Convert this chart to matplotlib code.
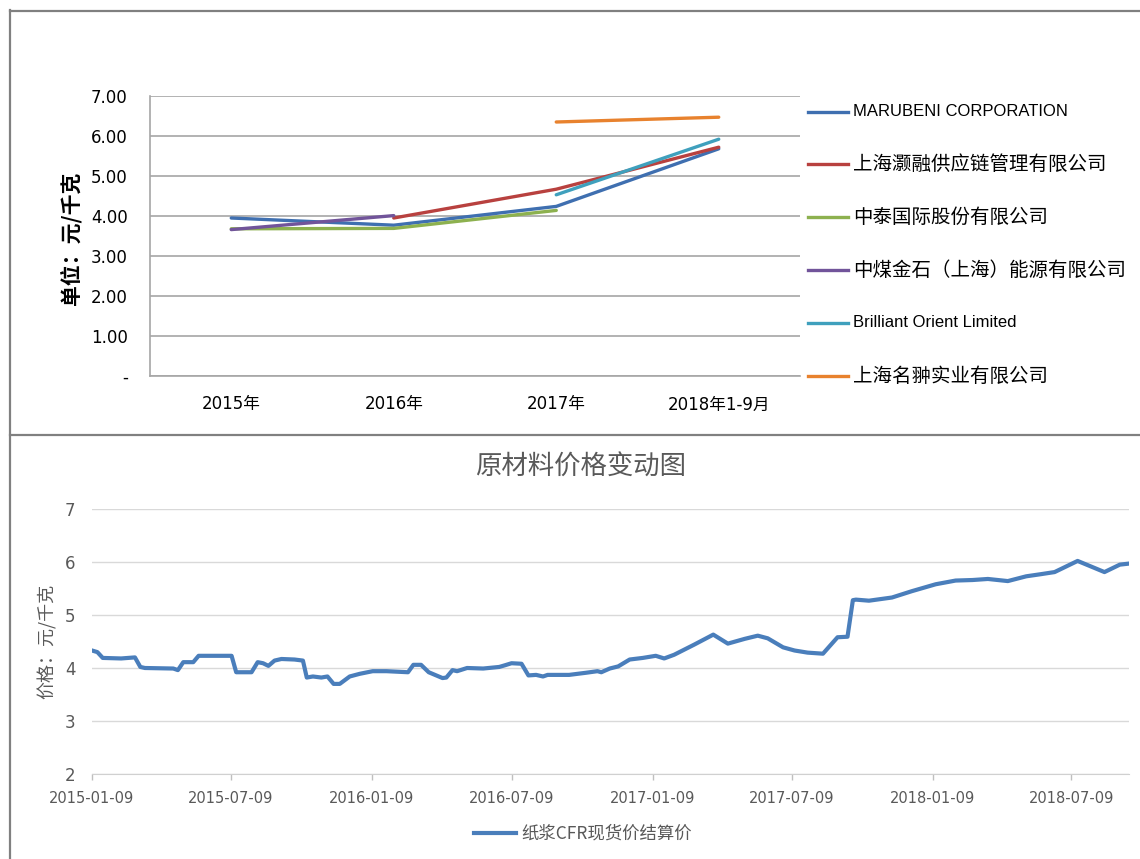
import matplotlib
matplotlib.use("Agg")
import matplotlib.pyplot as plt
import matplotlib.dates as mdates
from matplotlib.lines import Line2D
import numpy as np
import pandas as pd

plt.rcParams['font.family'] = ['DejaVu Sans', 'Noto Sans CJK SC']

W, H = 1140, 859

# ---- top chart: yearly price by supplier ----
categories = ['2015年', '2016年', '2017年', '2018年1-9月']
nan = np.nan
marubeni = [3.95, 3.77, 4.24, 5.68]
haorong = [nan, 3.95, 4.67, 5.72]
zhongtai = [3.68, 3.69, 4.14, nan]
zhongmei = [3.66, 4.01, nan, nan]
brilliant = [nan, nan, 4.53, 5.92]
mingchong = [nan, nan, 6.35, 6.47]
series_names = ['MARUBENI CORPORATION', '上海灏融供应链管理有限公司', '中泰国际股份有限公司',
                '中煤金石（上海）能源有限公司', 'Brilliant Orient Limited', '上海名翀实业有限公司']
series_colors = ['#3f6fb0', '#b8413f', '#8db14f', '#71549a', '#3fa0bd', '#e8822e']

# ---- bottom chart: pulp CFR spot settlement price ----
pulp_dates = ['2015-01-09', '2015-01-16', '2015-01-23', '2015-02-16', '2015-03-06', '2015-03-13',
              '2015-03-19', '2015-04-25', '2015-05-01', '2015-05-08', '2015-05-21', '2015-05-28',
              '2015-07-10', '2015-07-16', '2015-08-05', '2015-08-13', '2015-08-20', '2015-08-27',
              '2015-09-04', '2015-09-13', '2015-09-30', '2015-10-11', '2015-10-16', '2015-10-24',
              '2015-11-04', '2015-11-12', '2015-11-20', '2015-11-28', '2015-12-11', '2015-12-24',
              '2016-01-10', '2016-01-28', '2016-02-25', '2016-03-03', '2016-03-13', '2016-03-23',
              '2016-04-10', '2016-04-15', '2016-04-23', '2016-04-29', '2016-05-12', '2016-06-02',
              '2016-06-23', '2016-06-30', '2016-07-09', '2016-07-22', '2016-07-31', '2016-08-10',
              '2016-08-19', '2016-08-25', '2016-09-22', '2016-10-14', '2016-10-29', '2016-11-03',
              '2016-11-14', '2016-11-25', '2016-12-10', '2016-12-27', '2017-01-13', '2017-01-24',
              '2017-02-06', '2017-03-04', '2017-03-29', '2017-04-17', '2017-05-09', '2017-05-26',
              '2017-06-08', '2017-06-28', '2017-07-13', '2017-07-30', '2017-08-19', '2017-09-07',
              '2017-09-20', '2017-09-27', '2017-10-01', '2017-10-18', '2017-11-17', '2017-12-13',
              '2018-01-13', '2018-02-08', '2018-03-02', '2018-03-22', '2018-04-17', '2018-05-11',
              '2018-05-30', '2018-06-17', '2018-07-17', '2018-08-21', '2018-09-10', '2018-09-22']
pulp_price = [4.33, 4.30, 4.19, 4.18, 4.20, 4.02,
              4.00, 3.99, 3.96, 4.11, 4.11, 4.23,
              4.23, 3.92, 3.92, 4.11, 4.09, 4.04,
              4.14, 4.17, 4.16, 4.14, 3.82, 3.84,
              3.82, 3.84, 3.70, 3.70, 3.84, 3.89,
              3.94, 3.94, 3.92, 4.06, 4.06, 3.92,
              3.81, 3.82, 3.96, 3.94, 4.00, 3.99,
              4.02, 4.05, 4.09, 4.08, 3.86, 3.87,
              3.84, 3.87, 3.87, 3.91, 3.94, 3.92,
              3.99, 4.03, 4.16, 4.19, 4.23, 4.18,
              4.25, 4.44, 4.63, 4.46, 4.55, 4.61,
              4.56, 4.39, 4.33, 4.29, 4.27, 4.58,
              4.59, 5.28, 5.29, 5.27, 5.33, 5.45,
              5.58, 5.65, 5.66, 5.68, 5.64, 5.73,
              5.77, 5.81, 6.02, 5.81, 5.95, 5.97]
tick_dates = ['2015-01-09', '2015-07-09', '2016-01-09', '2016-07-09',
              '2017-01-09', '2017-07-09', '2018-01-09', '2018-07-09']

fig = plt.figure(figsize=(W / 100, H / 100), dpi=100)


def fx(px):
    return px / W


def fy(py):
    return 1 - py / H


# frame lines around the two panels
for xs, ys in [((10, W), (10.5, 10.5)), ((9.5, 9.5), (10, H)), ((10, W), (434.5, 434.5))]:
    fig.add_artist(Line2D([fx(x) for x in xs], [fy(y) for y in ys], color='#808080', lw=1.6))

# ---------------- top chart ----------------
ax1 = fig.add_axes([fx(150), fy(376), fx(800) - fx(150), fy(96) - fy(376)])
xpos = np.arange(len(categories))
all_series = [marubeni, haorong, zhongtai, zhongmei, brilliant, mingchong]
for vals, col in zip(all_series, series_colors):
    ax1.plot(xpos, vals, color=col, lw=2.4, solid_capstyle='round')

ax1.set_xlim(-0.5, 3.5)
ax1.set_ylim(0, 7)
ax1.set_yticks(range(8))
ax1.set_yticklabels(['-'] + ['%.2f' % v for v in range(1, 8)], fontsize=12)
ax1.set_xticks(xpos)
ax1.set_xticklabels(categories, fontsize=12)
ax1.tick_params(axis='y', length=0, pad=16)
ax1.tick_params(axis='x', length=0, pad=14)
ax1.grid(axis='y', color='#a6a6a6', lw=1.2)
ax1.set_axisbelow(True)
for s in ['top', 'right']:
    ax1.spines[s].set_visible(False)
ax1.spines['left'].set_color('#a6a6a6')
ax1.spines['bottom'].set_color('#a6a6a6')
ax1.spines['left'].set_linewidth(1.2)
ax1.spines['bottom'].set_linewidth(1.2)
fig.text(fx(71), fy(238), '单位：元/千克', rotation=90, ha='center', va='center',
         fontsize=15, fontweight='bold', family=['Noto Sans CJK SC'])

# legend on the right
leg_y = [112, 164, 217, 270, 323, 376]
for name, col, y in zip(series_names, series_colors, leg_y):
    fig.add_artist(Line2D([fx(808), fx(848)], [fy(y), fy(y)], color=col, lw=2.4))
    if name.isascii():
        fig.text(fx(853), fy(y), name, va='center', fontsize=12, family=['Liberation Sans'])
    else:
        fig.text(fx(853), fy(y), name, va='center', fontsize=14, family=['Noto Sans CJK SC'])

# ---------------- bottom chart ----------------
ax2 = fig.add_axes([fx(92), fy(774), fx(1129) - fx(92), fy(509) - fy(774)])
dts = pd.to_datetime(pulp_dates)
ax2.plot(dts, pulp_price, color='#4a7ebb', lw=3, solid_joinstyle='round', label='纸浆CFR现货价结算价')
ax2.set_ylim(2, 7)
ax2.set_xlim(pd.Timestamp('2015-01-09'), dts[-1])
ticks = pd.to_datetime(tick_dates)
ax2.set_xticks(ticks)
ax2.xaxis.set_major_formatter(mdates.DateFormatter('%Y-%m-%d'))
ax2.tick_params(axis='x', colors='#bfbfbf', labelcolor='#595959', labelsize=10.5,
                length=4, width=1, pad=8)
ax2.tick_params(axis='y', length=0, labelcolor='#595959', labelsize=12, pad=12)
ax2.grid(axis='y', color='#d9d9d9', lw=1)
ax2.set_axisbelow(True)
for s in ['top', 'right', 'left']:
    ax2.spines[s].set_visible(False)
ax2.spines['bottom'].set_color('#d0d0d0')
fig.text(fx(581), fy(467), '原材料价格变动图', ha='center', va='center', fontsize=19,
         color='#595959', family=['Noto Sans CJK SC'])
fig.text(fx(47), fy(641), '价格：元/千克', rotation=90, ha='center', va='center',
         fontsize=13, color='#595959', family=['Noto Sans CJK SC'])
leg = ax2.legend(loc='center', bbox_to_anchor=(fx(583), fy(834)), bbox_transform=fig.transFigure,
                 frameon=False, handlelength=2.4, handletextpad=0.3,
                 prop={'family': ['Noto Sans CJK SC'], 'size': 12.5})
for t in leg.get_texts():
    t.set_color('#595959')

fig.savefig('out.png', dpi=100)
